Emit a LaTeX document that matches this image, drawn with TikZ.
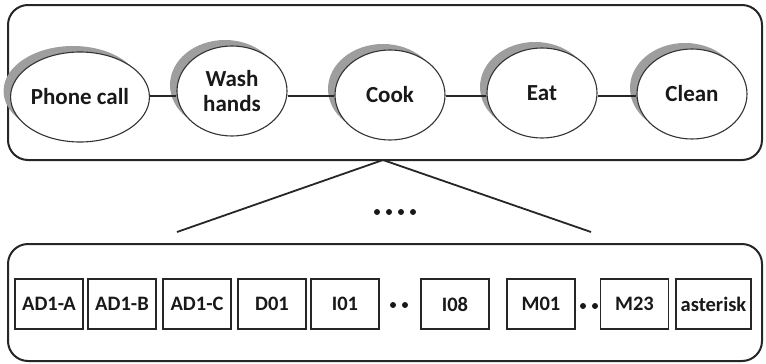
\documentclass[tikz,border=0pt]{standalone}
\usepackage{fontspec}
\setmainfont{Carlito}
\usetikzlibrary{shapes.geometric,shadows}
\begin{document}
\begin{tikzpicture}[x=1pt,y=-1pt,
  panel/.style={draw=black!85,line width=2pt,rounded corners=20pt},
  activity/.style={ellipse,draw=black!80,line width=1.1pt,fill=white,
    minimum width=110pt,minimum height=90pt,inner sep=0pt,align=center,
    text=black!90,font=\fontsize{23}{25}\selectfont\bfseries,
    general shadow={shadow xshift=-7pt,shadow yshift=6pt,fill=black!38}},
  sensor/.style={rectangle,draw=black!85,line width=1.8pt,fill=white,
    minimum width=68pt,minimum height=50pt,inner sep=0pt,
    text=black!90,font=\fontsize{20.5}{22}\selectfont\bfseries},
  link/.style={draw=black!85,line width=1.8pt},
  dot/.style={circle,fill=black!90,minimum size=6pt,inner sep=0pt}]
\useasboundingbox (0,0) rectangle (766,364);

% activity panel
\draw[panel] (8,5) rectangle (762,160);
\node[activity] (phone) at (80,97) {Phone call};
\node[activity] (wash) at (232,91) {Wash\\hands};
\node[activity] (cook) at (390,95) {Cook};
\node[activity] (eat) at (542,93) {Eat};
\node[activity] (clean) at (692,94) {Clean};
\draw[link] (phone.east |- 0,96) -- (wash.west |- 0,96);
\draw[link] (wash.east |- 0,96) -- (cook.west |- 0,96);
\draw[link] (cook.east |- 0,96) -- (eat.west |- 0,96);
\draw[link] (eat.east |- 0,96) -- (clean.west |- 0,96);

% zoom-in lines to the sensor panel
\coordinate (apex) at (383,160);
\coordinate (left) at (177,232);
\coordinate (right) at (591,232);
\draw[link] (apex) -- (left);
\draw[link] (apex) -- (right);
\foreach \i/\x in {1/377,2/389,3/401,4/413} \node[dot] (top\i) at (\x,212) {};

% sensor panel
\draw[panel] (8,244) rectangle (762,361);
\node[sensor] (ada) at (49,304) {AD1-A};
\node[sensor] (adb) at (122,304) {AD1-B};
\node[sensor] (adc) at (197,304) {AD1-C};
\node[sensor] (d01) at (272,304) {D01};
\node[sensor] (i01) at (345,304) {I01};
\node[sensor] (i08) at (455,304) {I08};
\node[sensor] (m01) at (541,304) {M01};
\node[sensor] (m23) at (634.5,304) {M23};
\node[sensor,minimum width=75pt] (ast) at (713.5,304) {asterisk};
\node[dot] (ia) at (393,305) {};
\node[dot] (ib) at (405,305) {};
\node[dot] (ma) at (583,306) {};
\node[dot] (mb) at (595,306) {};
\end{tikzpicture}
\end{document}
